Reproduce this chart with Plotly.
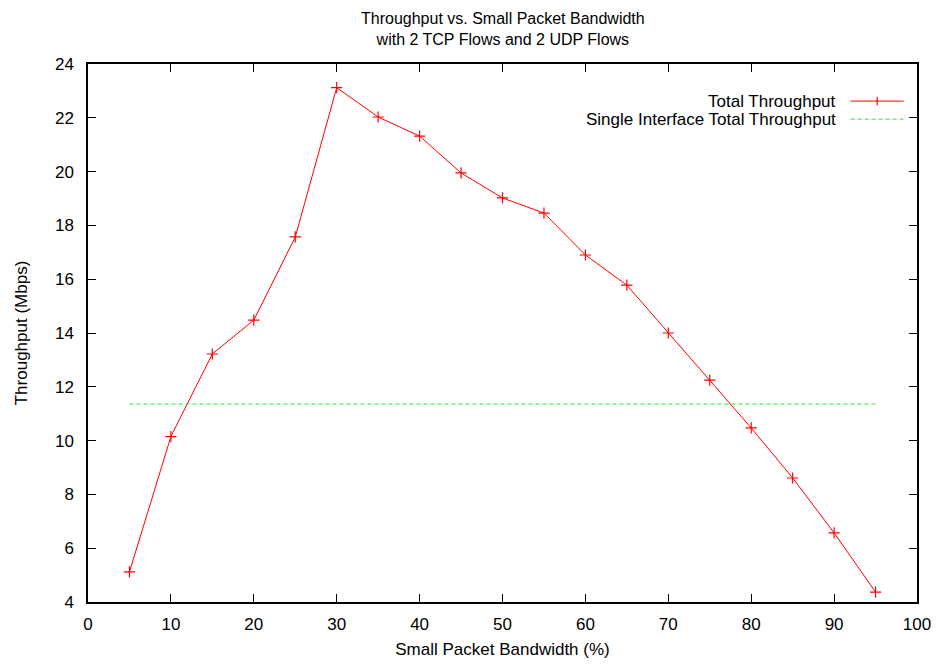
import plotly.graph_objects as go

x_pct = [5, 10, 15, 20, 25, 30, 35, 40, 45, 50, 55, 60, 65, 70, 75, 80, 85, 90, 95]
total_tp = [5.12, 10.15, 13.22, 14.48, 17.57, 23.12, 22.03, 21.32, 19.95, 19.02, 18.46,
            16.9, 15.78, 14.0, 12.25, 10.47, 8.61, 6.57, 4.37]
single_x = [5, 95]
single_tp = [11.36, 11.36]
x_ticks = list(range(0, 101, 10))
y_ticks = list(range(4, 25, 2))

FONT = "Liberation Sans, Arial, sans-serif"
RED = "#ff0000"
GREEN = "#22ee22"

fig = go.Figure()
fig.add_trace(go.Scatter(x=x_pct, y=total_tp, mode="lines+markers",
                         line=dict(color=RED, width=1),
                         marker=dict(symbol="cross-thin", size=8, line=dict(color=RED, width=1.2)),
                         name="Total Throughput", showlegend=False))
fig.add_trace(go.Scatter(x=single_x, y=single_tp, mode="lines",
                         line=dict(color=GREEN, width=1, dash="4px,3px"),
                         name="Single Interface Total Throughput", showlegend=False))

axis_common = dict(showgrid=False, zeroline=False, showline=True, linecolor="black", linewidth=1.5,
                   mirror="allticks", ticks="inside", ticklen=8, tickcolor="black", automargin=False,
                   tickfont=dict(family=FONT, size=17, color="black"))
fig.update_xaxes(range=[0, 100], tickvals=x_ticks, ticklabelstandoff=6, **axis_common,
                 title=dict(text="Small Packet Bandwidth (%)", font=dict(family=FONT, size=17, color="black"), standoff=10))
fig.update_yaxes(range=[4, 24], tickvals=y_ticks, ticklabelstandoff=9, **axis_common,
                 title=dict(text="Throughput (Mbps)", font=dict(family=FONT, size=17, color="black"), standoff=23))

# legend (gnuplot style: text right-aligned, sample on the right)
legend_items = [("Total Throughput", RED, "solid", True), ("Single Interface Total Throughput", GREEN, "4px,3px", False)]
ly0 = 0.931
for i, (txt, col, dash, mark) in enumerate(legend_items):
    yy = ly0 - i * 0.0335
    fig.add_annotation(x=0.905, y=yy, xref="paper", yref="paper", text=txt, showarrow=False,
                       xanchor="right", yanchor="middle", font=dict(family=FONT, size=17, color="black"))
    fig.add_shape(type="line", xref="paper", yref="paper", x0=0.920, x1=0.984, y0=yy, y1=yy,
                  line=dict(color=col, width=1, dash=dash))
    if mark:
        fig.add_shape(type="line", xref="paper", yref="paper", x0=0.952, x1=0.952, y0=yy - 0.0075, y1=yy + 0.0075,
                      line=dict(color=col, width=1.2))

# title (two lines, centred above the plot)
fig.add_annotation(x=0.5, y=1 + (64 - 8) / 538, xref="paper", yref="paper", showarrow=False,
                   xanchor="center", yanchor="top",
                   text="Throughput vs. Small Packet Bandwidth<br>with 2 TCP Flows and 2 UDP Flows",
                   font=dict(family=FONT, size=16, color="black"))

fig.update_layout(
    width=940, height=665,
    margin=dict(l=88, r=23, t=64, b=63),
    paper_bgcolor="white", plot_bgcolor="white",
)

fig.write_html("out.html")
